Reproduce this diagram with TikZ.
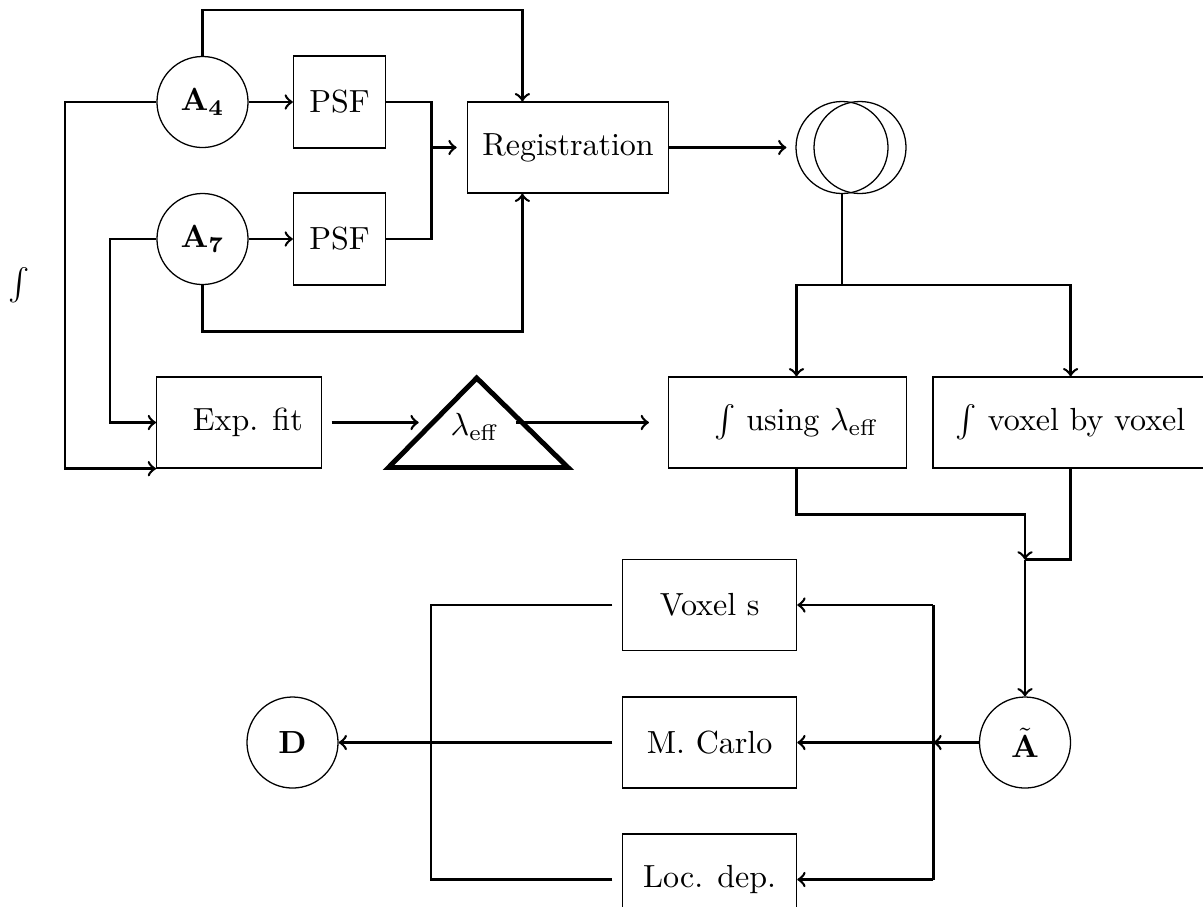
\documentclass[tikz,border=0pt]{standalone}
\usepackage{amsmath}
\begin{document}
\begin{tikzpicture}[x=0.3125pt,y=-0.3125pt,
  conn/.style={thick},
  arr/.style={thick,->},
  box/.style={draw,thin,rectangle,minimum height=28.45pt},
  circ/.style={draw,thin,circle,minimum size=28.45pt,inner sep=0pt},
]
\useasboundingbox (0,0) rectangle (1203,906);

% nodes
\node (int) at (19,285) {$\int$};
\node[circ] (A4) at (202.5,102) {$\mathbf{A_4}$};
\node[circ] (A7) at (202.5,239) {$\mathbf{A_7}$};
\node[box,minimum width=28.75pt,minimum height=28.75pt] (psf1) at (339.5,102) {PSF};
\node[box,minimum width=28.75pt,minimum height=28.75pt] (psf2) at (339.5,239) {PSF};
\node[box,minimum width=62.8pt] (reg) at (568,147.5) {Registration};
\node[circ,minimum size=28.75pt] (c1) at (842,147.5) {};
\node[circ,minimum size=28.75pt] (c2) at (860,147.5) {};
\node[box,minimum width=51.6pt] (exp) at (239.2,422.5) {\hspace*{5.4pt}Exp. fit};
\node[inner sep=0pt,anchor=base] (lam) at (475,435.5) {$\lambda_{\mathrm{eff}}$};
\draw[line width=1.55pt] (388.5,467.5) -- (476.7,378) -- (568,467.5) -- cycle;
\node[box,minimum width=74.4pt] (using) at (787.5,422.5) {\hspace*{5.6pt}$\int$ using $\lambda_{\mathrm{eff}}$};
\node[box,minimum width=86pt] (voxel) at (1070.6,422.5) {$\int$ voxel by voxel};
\node[box,minimum width=54.4pt] (vs) at (709.6,605) {Voxel s};
\node[box,minimum width=54.4pt] (mc) at (709.6,742.5) {M. Carlo};
\node[box,minimum width=54.4pt] (ld) at (709.6,879.5) {Loc. dep.};
\node[circ] (D) at (292.5,742.5) {$\mathbf{D}$};
\node[circ] (At) at (1025,742.5) {$\tilde{\mathbf{A}}$};

% coordinates
\coordinate (m) at (431.3,147.5);
\coordinate (s) at (842,285);
\coordinate (j) at (1025,559.5);
\coordinate (r) at (933.3,742.5);
\coordinate (lft) at (431,742.5);

% connectors top
\draw[arr] (A4.north) -- ++(0,-45.8) -| ([xshift=-14.25pt]reg.north);
\draw[arr] (A7.south) -- ++(0,46.5) -| ([xshift=-14.25pt]reg.south);
\draw[arr] (A4) -- (psf1);
\draw[arr] (A7) -- (psf2);
\draw[conn] (psf1.east) -| (m);
\draw[conn] (psf2.east) -| (m);
\draw[arr,shorten >=3.2pt] (m) -- (reg.west);
\draw[arr,shorten >=2.8pt] (reg) -- (c1);
\draw[conn] (c1.south) -- (s);
\draw[arr] (s) -| ([xshift=2.8pt]using.north);
\draw[arr] (s) -| (voxel.north);

% left
\draw[arr] (A4.west) -- ++(-91.3,0) |- (exp.south west);
\draw[arr] (A7.west) -- ++(-46.3,0) |- (exp.west);
\draw[arr,shorten <=2.9pt,shorten >=9.8pt] (exp.east) -- (exp.east -| lam.west);
\draw[arr,shorten <=5pt,shorten >=5.9pt] (using.west -| lam.east) -- (using.west);

% middle right
\draw[arr] ([xshift=2.8pt]using.south) -- ++(0,46) -| (j);
\draw[conn] (voxel.south) |- (j);
\draw[arr] (j) -- (At.north);

% bottom
\draw[arr] (At.west) -- (r);
\draw[conn] (r |- vs.east) -- (r |- ld.east);
\draw[arr] (r |- vs.east) -- (vs.east);
\draw[arr] (r) -- (mc.east);
\draw[arr] (r |- ld.east) -- (ld.east);
\draw[conn,shorten <=3pt] (vs.west) -| (lft);
\draw[conn,shorten <=3pt] (ld.west) -| (lft);
\draw[arr,shorten <=3pt] (mc.west) -- (D.east);
\end{tikzpicture}
\end{document}
